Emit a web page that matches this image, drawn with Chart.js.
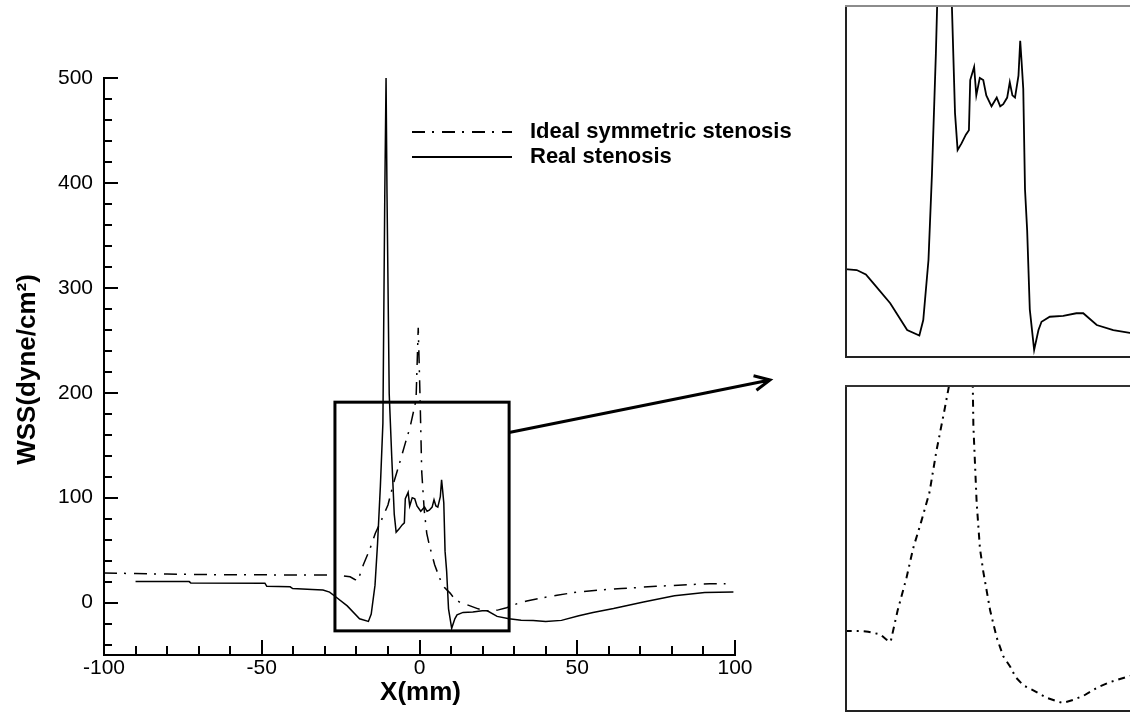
<!DOCTYPE html>
<html>
<head>
<meta charset="utf-8">
<title>WSS</title>
<script src="https://cdn.jsdelivr.net/npm/chart.js@4.4.0/dist/chart.umd.min.js"></script>
<style>
  html, body { margin: 0; padding: 0; background: #fff; overflow: hidden; }
  #wrap { position: relative; width: 1130px; height: 715px; overflow: hidden; }
  #wrap canvas { position: absolute; }
  #main { left: 0; top: 0; }
  #zoomReal { left: 845px; top: 5px; }
  #zoomIdeal { left: 845px; top: 385px; }
</style>
</head>
<body>
<div id="wrap">
  <canvas id="main" width="1130" height="715"></canvas>
  <canvas id="zoomReal" width="320" height="353"></canvas>
  <canvas id="zoomIdeal" width="320" height="327"></canvas>
</div>
<script>
// wall shear stress along the vessel axis
const idealX = [-100, -90, -80, -70, -60, -50, -40, -30, -27, -25, -22, -20.5, -19.5, -17.8, -15.6, -14, -12, -10,
  -8.3, -6.4, -4.5, -3, -1.1, -0.4, 0.2, 0.7, 1.5, 2.3, 3.1, 4.8, 6.4, 8, 9.7, 11, 12.9, 15, 18.6, 22.5, 25, 27.6,
  31, 34, 38, 43.6, 50, 57, 64, 75, 85, 92, 97];
const idealY = [28.2, 27.6, 27.1, 26.7, 26.5, 26.4, 26.3, 26.2, 26.2, 25.8, 24.5, 22, 21, 36, 52, 66, 79, 93,
  113, 132, 152, 167, 193, 262, 193, 125, 88, 66, 55, 36, 23, 14, 9, 4, 0, -2, -6, -8.5, -7, -5,
  -1, 1.5, 4, 7, 10, 12, 13.3, 15.5, 17, 18, 18];

const realX = [-90, -73, -72.5, -49, -48.4, -41, -40.2, -34, -30.6, -28.5, -26.8, -22.9, -19, -16.2, -15.3, -14.1,
  -13.3, -12.4, -11.6, -11.0, -10.6, -10.3, -9.6, -8.8, -8.0, -7.4, -6.5, -5.5, -4.8, -4.5, -3.6, -3.1, -2.3, -1.5,
  -0.8, 0.4, 1.6, 2.4, 3.1, 4.0, 4.6, 5.2, 5.8, 6.6, 7.0, 7.3, 7.7, 8.1, 8.6, 9.2, 10.2, 11.2, 11.9, 13.8, 16.9,
  19.9, 21.5, 24.6, 28.4, 32.2, 36, 40, 45, 50.5, 55, 61.5, 71, 80.8, 90.4, 99.5];
const realY = [20, 20, 18.7, 18.5, 15.5, 15, 13.3, 12.5, 12, 10, 6, -3.2, -15.5, -18, -10.9, 16.6,
  56, 111, 171, 390, 500, 390, 199, 139, 84, 67, 70, 74, 76, 99, 105, 92, 100, 99,
  92, 87, 91, 87, 88, 91, 98, 92, 91, 101, 117, 108, 95, 49, 30, -6, -24.6, -15.5, -11.7, -9.4, -9,
  -7.8, -7.8, -13.2, -15.5, -16.8, -17, -18, -17, -12.5, -9.5, -5.7, 0.6, 6.5, 9.5, 10];

const xTickLabels = [-100, -50, 0, 50, 100];
const yTickLabels = [0, 100, 200, 300, 400, 500];
const xMinorStep = 10;
const yMinorStep = 20;

// zoomed window marked on the main plot
const boxX = [-26.8, 28.4];
const boxY = [-27, 191];

// axis ranges of the two enlarged views
const realZoomX = [-33.3, 40.3];
const realZoomY = [-28.3, 133.4];
const idealZoomX = [-30.65, 47.5];
const idealZoomY = [-12.8, 144.5];

const FONT = "'Liberation Sans', Arial, sans-serif";
const DASH_DOT = [13, 7, 2, 8];

const pts = (xs, ys) => xs.map((x, i) => ({ x: x, y: ys[i] }));

const mainExtras = {
  id: 'mainExtras',
  afterDraw(chart) {
    const ctx = chart.ctx;
    const xs = chart.scales.x, ys = chart.scales.y;
    const a = chart.chartArea;
    ctx.save();
    ctx.strokeStyle = '#000';
    ctx.lineWidth = 2;
    // inward tick marks
    ctx.beginPath();
    for (let v = xs.min; v <= xs.max; v += xMinorStep) {
      const px = Math.round(xs.getPixelForValue(v));
      const len = xTickLabels.includes(v) ? 15 : 9;
      ctx.moveTo(px, a.bottom);
      ctx.lineTo(px, a.bottom - len);
    }
    for (let v = -40; v <= ys.max; v += yMinorStep) {
      const py = Math.round(ys.getPixelForValue(v));
      const len = yTickLabels.includes(v) ? 14 : 8;
      ctx.moveTo(a.left, py);
      ctx.lineTo(a.left + len, py);
    }
    ctx.stroke();

    // zoom window and arrow
    const bx0 = xs.getPixelForValue(boxX[0]), bx1 = xs.getPixelForValue(boxX[1]);
    const by0 = ys.getPixelForValue(boxY[1]), by1 = ys.getPixelForValue(boxY[0]);
    ctx.lineWidth = 3;
    ctx.strokeRect(bx0, by0, bx1 - bx0, by1 - by0);
    const sx = bx1, sy = ys.getPixelForValue(162);
    const ex = 770, ey = 380;
    const ang = Math.atan2(ey - sy, ex - sx);
    ctx.beginPath();
    ctx.moveTo(sx, sy);
    ctx.lineTo(ex, ey);
    ctx.moveTo(ex - 17 * Math.cos(ang - 0.45), ey - 17 * Math.sin(ang - 0.45));
    ctx.lineTo(ex, ey);
    ctx.lineTo(ex - 17 * Math.cos(ang + 0.45), ey - 17 * Math.sin(ang + 0.45));
    ctx.stroke();

    // legend
    const rows = [132, 157];
    ctx.font = 'bold 22px ' + FONT;
    ctx.fillStyle = '#000';
    ctx.textBaseline = 'middle';
    ctx.textAlign = 'left';
    chart.data.datasets.forEach((ds, i) => {
      ctx.lineWidth = 1.8;
      ctx.setLineDash(ds.borderDash || []);
      ctx.beginPath();
      ctx.moveTo(412, rows[i]);
      ctx.lineTo(512, rows[i]);
      ctx.stroke();
      ctx.setLineDash([]);
      ctx.fillText(ds.label, 530, rows[i]);
    });

    // axis titles
    ctx.font = 'bold 26px ' + FONT;
    ctx.textAlign = 'center';
    ctx.fillText('X(mm)', xs.getPixelForValue(0) + 1, 693);
    ctx.translate(27.5, (a.top + a.bottom) / 2 + 3);
    ctx.rotate(-Math.PI / 2);
    ctx.fillText('WSS(dyne/cm\u00B2)', 0, 0);
    ctx.restore();
  }
};

const frame = {
  id: 'frame',
  afterDraw(chart, args, opts) {
    const ctx = chart.ctx;
    const a = chart.chartArea;
    ctx.save();
    ctx.lineWidth = 2;
    ctx.strokeStyle = opts.color;
    ctx.beginPath();
    ctx.moveTo(a.right, a.bottom - 1);
    ctx.lineTo(a.left + 1, a.bottom - 1);
    ctx.lineTo(a.left + 1, a.top + 1);
    ctx.stroke();
    ctx.strokeStyle = opts.topColor;
    ctx.beginPath();
    ctx.moveTo(a.left, a.top + 1);
    ctx.lineTo(a.right, a.top + 1);
    ctx.stroke();
    ctx.restore();
  }
};

new Chart(document.getElementById('main'), {
  type: 'line',
  data: {
    datasets: [
      { label: 'Ideal symmetric stenosis', data: pts(idealX, idealY), borderColor: '#000', borderWidth: 1.5,
        borderDash: DASH_DOT, pointRadius: 0, tension: 0 },
      { label: 'Real stenosis', data: pts(realX, realY), borderColor: '#000', borderWidth: 1.5,
        pointRadius: 0, tension: 0 }
    ]
  },
  options: {
    responsive: false,
    animation: false,
    events: [],
    layout: { padding: { left: 0, top: 78, right: 395, bottom: 0 } },
    plugins: { legend: { display: false }, tooltip: { enabled: false } },
    scales: {
      x: {
        type: 'linear', min: -100, max: 100,
        afterBuildTicks: s => { s.ticks = xTickLabels.map(v => ({ value: v })); },
        afterFit: s => { s.height = 60; },
        grid: { display: false, drawTicks: false },
        border: { display: true, color: '#000', width: 2 },
        ticks: { padding: 1, color: '#000', maxRotation: 0, autoSkip: false, font: { family: FONT, size: 21 } }
      },
      y: {
        type: 'linear', min: -50, max: 500,
        afterBuildTicks: s => { s.ticks = yTickLabels.map(v => ({ value: v })); },
        afterFit: s => { s.width = 104; },
        grid: { display: false, drawTicks: false },
        border: { display: true, color: '#000', width: 2 },
        ticks: { padding: 11, color: '#000', font: { family: FONT, size: 21 } }
      }
    }
  },
  plugins: [mainExtras]
});

function zoomChart(id, xs, ys, range, yRange, dash, width, topColor) {
  return new Chart(document.getElementById(id), {
    type: 'line',
    data: { datasets: [{ data: pts(xs, ys), borderColor: '#000', borderWidth: width, borderDash: dash,
      pointRadius: 0, tension: 0 }] },
    options: {
      responsive: false,
      animation: false,
      events: [],
      layout: { padding: 0 },
      plugins: { legend: { display: false }, tooltip: { enabled: false },
        frame: { color: '#222', topColor: topColor } },
      scales: {
        x: { type: 'linear', min: range[0], max: range[1], display: false },
        y: { type: 'linear', min: yRange[0], max: yRange[1], display: false }
      }
    },
    plugins: [frame]
  });
}

zoomChart('zoomReal', realX, realY, realZoomX, realZoomY, [], 1.8, '#8c8c8c');
zoomChart('zoomIdeal', idealX, idealY, idealZoomX, idealZoomY, [7, 5, 2, 5], 2, '#333');
</script>
</body>
</html>
